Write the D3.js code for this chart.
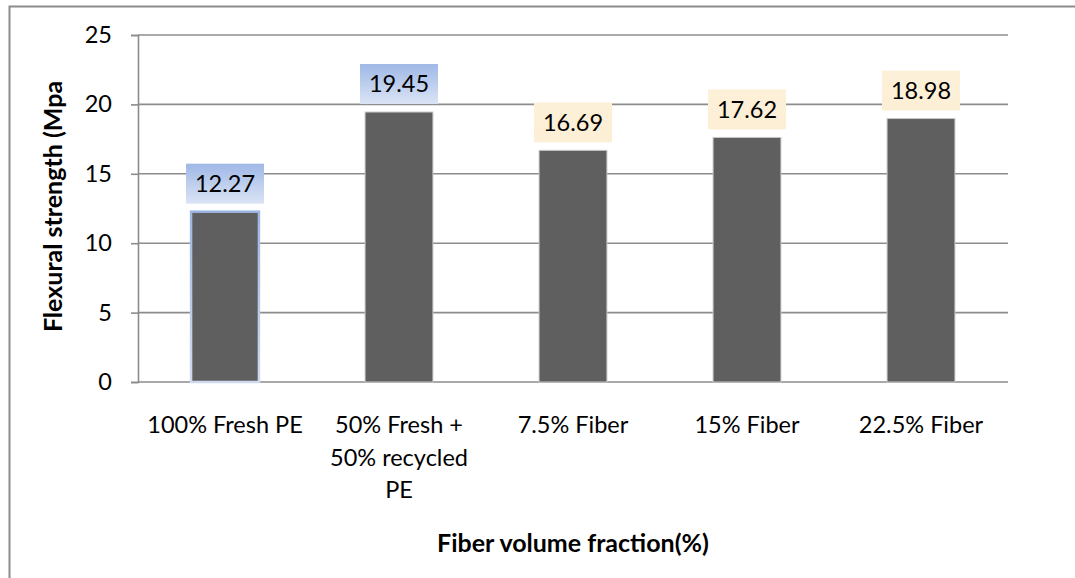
<!DOCTYPE html>
<html><head><meta charset="utf-8">
<script src="https://cdn.jsdelivr.net/npm/d3@7"></script>
<style>
html,body{margin:0;padding:0;background:#fff;}
svg{display:block;font-family:Lato,"Open Sans",sans-serif;}
</style></head>
<body>
<svg id="chart" width="1075" height="578"></svg>
<script>
const categories = [["100% Fresh PE"], ["50% Fresh +", "50% recycled", "PE"], ["7.5% Fiber"], ["15% Fiber"], ["22.5% Fiber"]];
const values = [12.27, 19.45, 16.69, 17.62, 18.98];
const labelStyle = ["blue", "blue", "peach", "peach", "peach"];
const yTicks = [0, 5, 10, 15, 20, 25];
const yTitle = "Flexural strength (Mpa";
const xTitle = "Fiber volume fraction(%)";

const svg = d3.select("#chart");
const W = 1075, H = 578;
const plot = {left: 138, right: 1008, top: 35, bottom: 382};
const FONT = 23.5;
const TFONT = 25;

// outer border
svg.append("rect").attr("x", 9.5).attr("y", 6.5).attr("width", W + 20).attr("height", H + 20)
  .attr("fill", "#fff").attr("stroke", "#8c8c8c").attr("stroke-width", 2);

const defs = svg.append("defs");
const gBlue = defs.append("linearGradient").attr("id", "gBlue").attr("x1", 0).attr("y1", 0).attr("x2", 0).attr("y2", 1);
gBlue.append("stop").attr("offset", "0%").attr("stop-color", "#9fb8e6");
gBlue.append("stop").attr("offset", "100%").attr("stop-color", "#dbe4f5");
const gPeach = defs.append("linearGradient").attr("id", "gPeach").attr("x1", 0).attr("y1", 0).attr("x2", 0).attr("y2", 1);
gPeach.append("stop").attr("offset", "0%").attr("stop-color", "#fdf0d8");
gPeach.append("stop").attr("offset", "100%").attr("stop-color", "#fcefd6");
const gBorder = defs.append("linearGradient").attr("id", "gBorder").attr("x1", 0).attr("y1", 0).attr("x2", 0).attr("y2", 1);
gBorder.append("stop").attr("offset", "0%").attr("stop-color", "#9db5e3");
gBorder.append("stop").attr("offset", "100%").attr("stop-color", "#cfdaf0");

const x = d3.scaleBand().domain(d3.range(categories.length)).range([plot.left, plot.right]).padding(0);
const y = d3.scaleLinear().domain([0, 25]).range([plot.bottom, plot.top]);

// gridlines
svg.append("g").selectAll("line").data(yTicks.filter(d => d > 0)).join("line")
  .attr("x1", plot.left).attr("x2", plot.right)
  .attr("y1", d => y(d)).attr("y2", d => y(d))
  .attr("stroke", "#8c8c8c").attr("stroke-width", 1.6);

// y axis
const yAxis = d3.axisLeft(y).tickValues(yTicks).tickSize(7).tickPadding(19).tickFormat(d3.format("d"));
const ya = svg.append("g").attr("transform", `translate(${plot.left},0)`).call(yAxis);
ya.select(".domain").attr("stroke", "#8c8c8c").attr("stroke-width", 1.6);
ya.selectAll(".tick line").attr("stroke", "#8c8c8c").attr("stroke-width", 1.6);
ya.selectAll(".tick text").attr("font-size", FONT).attr("font-family", "Lato").attr("fill", "#000");

// x axis baseline
svg.append("line").attr("x1", plot.left).attr("x2", plot.right)
  .attr("y1", y(0)).attr("y2", y(0)).attr("stroke", "#8c8c8c").attr("stroke-width", 1.6);

// bars
const bw = x.bandwidth() * 0.39;
const bars = svg.append("g").selectAll("g").data(values).join("g");
bars.append("rect")
  .attr("x", (d, i) => x(i) + x.bandwidth() / 2 - bw / 2)
  .attr("y", d => y(d))
  .attr("width", bw)
  .attr("height", d => y(0) - y(d))
  .attr("fill", "#5f5f5f")
  .attr("stroke", (d, i) => i === 0 ? "url(#gBorder)" : "#c8c8c8")
  .attr("stroke-width", (d, i) => i === 0 ? 2.5 : 1);

// data labels
const boxW = 78, boxH = 40;
const lbl = svg.append("g").selectAll("g").data(values).join("g")
  .attr("transform", (d, i) => `translate(${x(i) + x.bandwidth() / 2},${y(d) - 8 - boxH / 2})`);
lbl.append("rect").attr("x", -boxW / 2).attr("y", -boxH / 2).attr("width", boxW).attr("height", boxH)
  .attr("fill", (d, i) => labelStyle[i] === "blue" ? "url(#gBlue)" : "url(#gPeach)");
lbl.append("text").attr("text-anchor", "middle").attr("dy", "0.35em")
  .attr("font-size", FONT).attr("fill", "#000").text(d => d.toFixed(2));

// category labels
const cl = svg.append("g").selectAll("text").data(categories).join("text")
  .attr("x", (d, i) => x(i) + x.bandwidth() / 2)
  .attr("y", 425)
  .attr("text-anchor", "middle").attr("font-size", FONT).attr("fill", "#000");
cl.selectAll("tspan").data(d => d).join("tspan")
  .attr("x", function() { return d3.select(this.parentNode).attr("x"); })
  .attr("dy", (d, j) => j === 0 ? "0.35em" : "32.5px")
  .text(d => d);

// axis titles
svg.append("text").attr("x", (plot.left + plot.right) / 2).attr("y", 543).attr("dy", "0.35em")
  .attr("text-anchor", "middle").attr("font-weight", "bold").attr("font-size", TFONT).attr("fill", "#000")
  .text(xTitle);
svg.append("text").attr("transform", `translate(53,${(plot.top + plot.bottom) / 2 - 2}) rotate(-90)`)
  .attr("dy", "0.35em").attr("text-anchor", "middle").attr("font-weight", "bold").attr("font-size", TFONT).attr("fill", "#000")
  .text(yTitle);
</script>
</body></html>
